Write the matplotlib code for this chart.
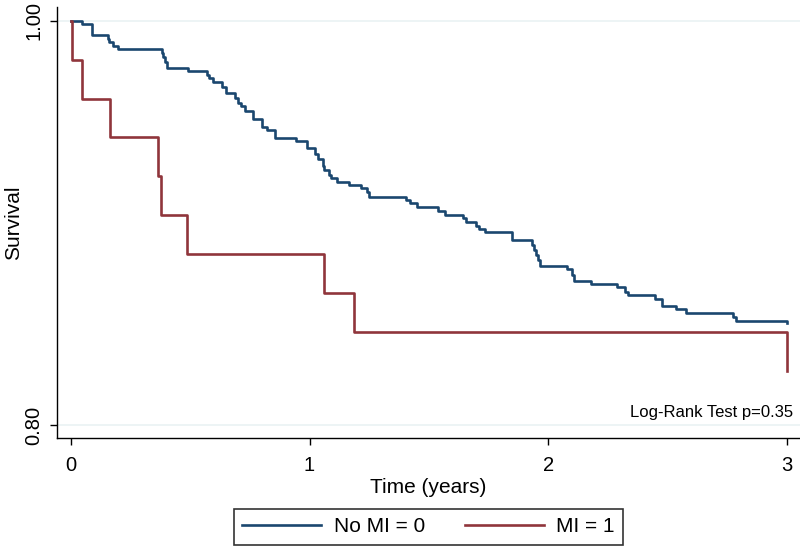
import matplotlib
matplotlib.use("Agg")
import matplotlib.pyplot as plt

plt.rcParams['font.family'] = ['Liberation Sans', 'DejaVu Sans']

# ---- data ----
no_mi_time = [0.0, 0.045, 0.089, 0.154, 0.161, 0.177, 0.198, 0.380, 0.387, 0.395,
              0.404, 0.489, 0.569, 0.580, 0.594, 0.632, 0.649, 0.688, 0.699, 0.713,
              0.730, 0.764, 0.802, 0.821, 0.855, 0.943, 0.991, 1.023, 1.037, 1.055,
              1.061, 1.083, 1.090, 1.114, 1.167, 1.214, 1.240, 1.249, 1.405, 1.421,
              1.449, 1.538, 1.567, 1.645, 1.656, 1.698, 1.712, 1.736, 1.848, 1.932,
              1.939, 1.948, 1.956, 1.966, 2.078, 2.099, 2.109, 2.180, 2.288, 2.323,
              2.334, 2.449, 2.477, 2.535, 2.579, 2.777, 2.787, 3.000]
no_mi_surv = [1.0, 0.9984, 0.9929, 0.9908, 0.9893, 0.9875, 0.9859, 0.9842, 0.9822, 0.9797,
              0.9765, 0.9751, 0.9731, 0.9715, 0.9697, 0.9674, 0.9644, 0.9616, 0.9591, 0.9578,
              0.9553, 0.9514, 0.9476, 0.9459, 0.9418, 0.9405, 0.9372, 0.9341, 0.9314, 0.9283,
              0.9261, 0.9237, 0.9220, 0.9204, 0.9187, 0.9171, 0.9151, 0.9130, 0.9112, 0.9097,
              0.9078, 0.9061, 0.9041, 0.9024, 0.9004, 0.8984, 0.8968, 0.8954, 0.8915, 0.8890,
              0.8866, 0.8841, 0.8816, 0.8788, 0.8770, 0.8742, 0.8714, 0.8696, 0.8684, 0.8659,
              0.8642, 0.8625, 0.8589, 0.8572, 0.8553, 0.8536, 0.8516, 0.8503]

mi_time = [0.0, 0.005, 0.047, 0.162, 0.365, 0.376, 0.485, 1.060, 1.185, 3.000]
mi_surv = [1.0, 0.9808, 0.9615, 0.9423, 0.9231, 0.9038, 0.8846, 0.8654, 0.8462, 0.8269]

series_labels = ["No MI = 0", "MI = 1"]
x_ticks = [0, 1, 2, 3]
y_ticks = [0.80, 1.00]
y_tick_labels = ["0.80", "1.00"]
note_text = "Log-Rank Test p=0.35"

navy = "#1a476f"
maroon = "#90353b"
grid_c = "#eaf2f3"

fig = plt.figure(figsize=(8.0, 5.48), dpi=100)
ax = fig.add_axes([57/800, 1-438/548, 743/800, (438-7)/548])

for yv in y_ticks:
    ax.axhline(yv, color=grid_c, lw=1.2, zorder=0)

l1, = ax.step(no_mi_time, no_mi_surv, where='post', color=navy, lw=1.9, label=series_labels[0])
l2, = ax.step(mi_time, mi_surv, where='post', color=maroon, lw=1.9, label=series_labels[1])

ax.set_xlim(-0.0587, 3.056)
ax.set_ylim(0.79357, 1.00678)

ax.set_xticks(x_ticks)
ax.set_xticklabels([str(v) for v in x_ticks], fontsize=14.5)
ax.set_yticks(y_ticks)
ax.set_yticklabels(y_tick_labels, fontsize=14.5, rotation=90, va='center')

ax.tick_params(axis='x', direction='out', length=5, width=1, pad=8)
ax.tick_params(axis='y', direction='out', length=5, width=1, pad=5)

for s in ['top', 'right']:
    ax.spines[s].set_visible(False)
for s in ['left', 'bottom']:
    ax.spines[s].set_linewidth(1.0)
    ax.spines[s].set_color('black')

ax.set_xlabel("Time (years)", fontsize=15, labelpad=2)
ax.set_ylabel("Survival", fontsize=15, va='baseline')
ax.yaxis.set_label_coords((19 - 57) / 743, 0.5)

ax.text(3.027, 0.806, note_text, ha='right', va='center', fontsize=12)

leg = fig.legend(handles=[l1, l2], labels=series_labels, loc='center',
                 bbox_to_anchor=(428.5/800, 1-527/548), ncol=2, fontsize=15,
                 frameon=True, fancybox=False, edgecolor='black',
                 handlelength=3.8, handletextpad=0.6, columnspacing=1.9,
                 borderpad=0.4)
leg.get_frame().set_linewidth(1.2)

fig.savefig("out.png", dpi=100)
